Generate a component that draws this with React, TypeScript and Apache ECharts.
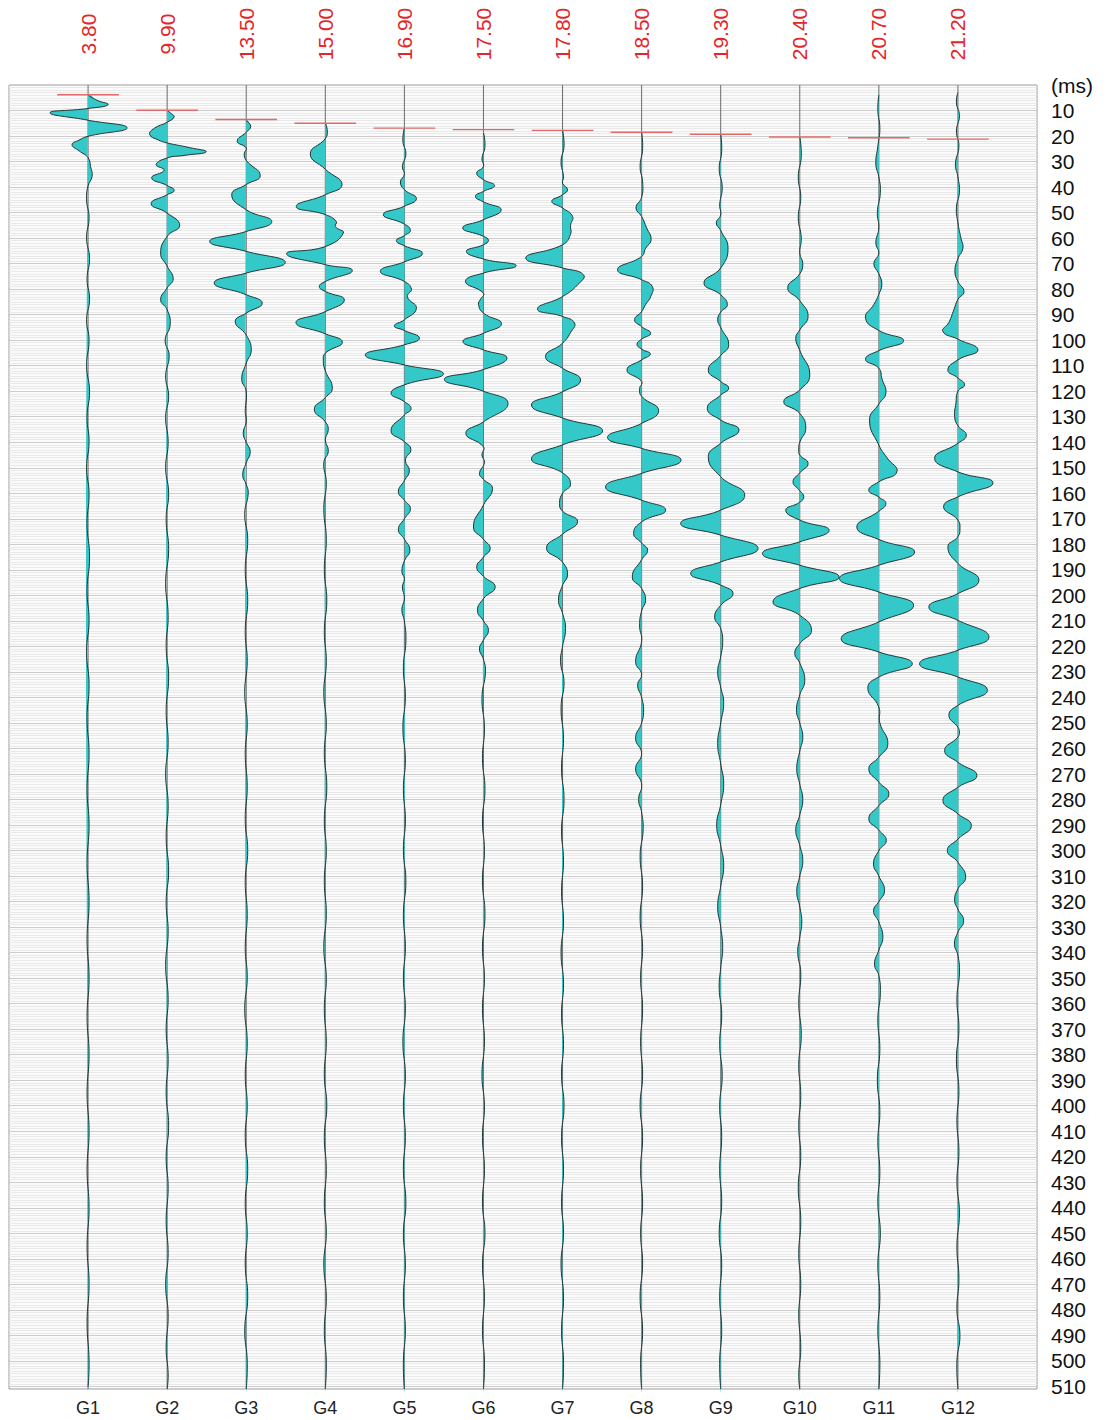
import React, { useEffect, useRef } from "react";
import * as echarts from "echarts";

// ---------- data ----------
const traceNames = ["G1", "G2", "G3", "G4", "G5", "G6", "G7", "G8", "G9", "G10", "G11", "G12"];
const firstBreaks = [3.8, 9.9, 13.5, 15.0, 16.9, 17.5, 17.8, 18.5, 19.3, 20.4, 20.7, 21.2];
const TIME_MAX = 511;

// each trace: [time ms, amplitude] (amplitude positive = right)
const g1 = [
  [4, 0], [6, 9], [7.7, 20], [9.2, 0], [10.9, -38], [13.8, 0], [16.8, 39], [20.1, 0], [21.6, -9], [23.4, -16], [25.8, -9], [28.5, 0],
  [32, 2.5], [35.8, 4], [39.5, 0], [45, -1.5], [52, 1], [60, -1.5], [68, 1.5], [76, -1], [84, 1.5], [92, -1.5], [100, 1], [110, -1.5],
  [120, 1.5], [130, -1], [140, 1], [150, -1.5], [160, 1], [172, -1], [185, 1.5], [198, -1], [210, 1], [222, -1.5], [235, 1], [248, -1],
  [262, 1], [276, -1], [290, 1], [305, -1], [320, 1], [335, -1], [350, 1], [365, -1], [380, 1], [395, -1], [410, 1], [425, -1], [440, 1],
  [455, -1], [470, 1], [485, -1], [500, 1], [510, 0],
];
const g2 = [
  [10, 0], [11.2, 4], [12.5, 7], [14.6, 0], [17, -13], [19.4, -17.5], [21.5, -9], [22.7, 0], [24.5, 22], [26.2, 39], [27.6, 17], [28.6, 0],
  [31.2, -11], [33.4, -3], [36.4, -15.5], [39.4, 0], [41.3, 7], [43, 0], [46.5, -16], [50.2, 0], [55, 12.5], [59.3, 0], [65.9, -6.5],
  [71, 0], [76, 6], [79.5, 0], [84.2, -6.5], [88, 0], [94, 3], [100, -2], [106, 2], [114, -1.5], [122, 1.5], [130, -1.5], [140, 1],
  [150, -1.5], [160, 1.5], [170, -1], [182, 1.5], [195, -1.5], [208, 1], [220, -1], [232, 1.5], [245, -1], [258, 1], [270, -1.5],
  [282, 1], [295, -1], [308, 1.5], [320, -1], [332, 1], [345, -1.5], [358, 1], [370, -1], [382, 1], [395, -1], [408, 1.5], [420, -1],
  [432, 1], [445, -1], [458, 1], [470, -1.5], [482, 1], [495, -1], [505, 1], [511, 0],
];
const g3 = [
  [14, 0], [16.2, 4.5], [18.5, 0], [22, -9], [24.7, 0], [27, -2], [29.5, 0], [35.5, 14], [39, 0], [43, -14.5], [48.9, 0], [53.5, 25.5],
  [57.4, 0], [61.3, -36.5], [65.2, 0], [69.5, 39], [73.7, 0], [77.6, -32], [82.2, 0], [85.5, 16], [89.4, 0], [92.7, -11], [98, 0],
  [103.8, 5], [109, 0], [115.3, -4.5], [120, 0], [128, -1], [132, 0], [136.4, -3], [140, 0], [143.7, 4], [148, 0], [152.9, -3.5],
  [156.5, 0], [160, 2], [168, -1.5], [178, 1.5], [190, -1], [202, 1.5], [214, -1], [226, 1], [238, -1.5], [250, 1], [262, -1], [275, 1],
  [288, -1], [300, 1.5], [312, -1], [325, 1], [338, -1], [350, 1], [362, -1.5], [375, 1], [388, -1], [400, 1], [412, -1], [425, 1.5],
  [438, -1], [450, 1], [462, -1], [475, 1.5], [488, -1.5], [500, 1], [511, 0],
];
const g4 = [
  [15, 0], [18, 2], [21, 0], [27, -15], [33, 0], [39, 16.7], [43, 0], [47.6, -29], [50.8, 0], [53.5, 11], [55.5, 10], [58, 18],
  [63.3, 0], [66.1, -38.7], [70.4, 0], [72.7, 27], [77, 0], [79, -6], [80.9, 0], [84.2, 19], [88.8, 0], [93.1, -29.3], [97.5, 0],
  [100.8, 17], [105.1, 0], [108, -2], [112, 0], [118.8, 7], [122.5, 0], [127.1, -11], [132, 0], [135, 3], [139, 0], [143.5, 3],
  [148, -1.5], [156, 1], [166, -1.5], [178, 1], [190, -1], [202, 1.5], [214, -1], [226, 1], [238, -1.5], [250, 1], [262, -1], [275, 1.5],
  [288, -1], [300, 1], [312, -1], [325, 1], [338, -1.5], [350, 1], [362, -1], [375, 1], [388, -1], [400, 1.5], [412, -1], [425, 1],
  [438, -1], [450, 1], [462, -1.5], [475, 1], [488, -1], [500, 1], [511, 0],
];
const g5 = [
  [17, 0], [22, -1.5], [27, 1.5], [32, -2], [35, 0], [38, -4], [41, 0], [44.5, 12], [47.5, 0], [50.8, -21], [54.5, 0], [57, 6], [59, 0],
  [61, -8], [63, 0], [66, 18], [69.3, 0], [73, -24], [77, 0], [80, 7], [83, 3], [87.5, 12], [92, 0], [94.4, -10], [96.2, 0], [99.2, 15],
  [101.8, 0], [105.8, -39], [109.7, 0], [113.2, 39], [117.5, 0], [120.8, -13.3], [124.1, 0], [126.8, 6.7], [129.3, 0], [135.5, -13.3],
  [139.8, 0], [142.8, 6.5], [147, 1], [151.2, 5], [155, 0], [159.4, -6], [162.7, 0], [166, 6], [170, 0], [174.2, -6], [178, 0],
  [182.3, 5.5], [186.5, 0], [190.7, -2.5], [193.5, 0], [196.7, -2], [201, 0], [205.8, -2.5], [210, 0], [218, 1.5], [228, -1], [240, 1],
  [252, -1.5], [264, 1], [276, -1], [288, 1], [300, -1], [312, 1.5], [325, -1], [338, 1], [350, -1], [362, 1], [375, -1.5], [388, 1],
  [400, -1], [412, 1], [425, -1], [438, 1.5], [450, -1], [462, 1], [475, -1], [488, 1], [500, -1], [511, 0],
];
const g6 = [
  [18.8, 0], [24, 1.5], [29, -1.5], [31.9, 0], [34.5, -6.7], [37.1, 0], [39.4, 11], [41.7, 0], [43.6, -8], [45.8, 0], [48.9, 17.7],
  [52.8, 0], [56, -20.7], [59.3, 0], [60.9, 5], [62.6, 0], [65.2, -17], [68.2, 0], [70.8, 32.7], [73.7, 0], [77, -18], [81.6, 0],
  [84, -3], [86, -5], [89.4, 0], [93.5, 18], [97.3, 0], [100.5, -20.5], [103.8, 0], [107, 23.5], [111.5, 0], [115.4, -39], [120, 0],
  [124.8, 24.5], [132, 0], [136.5, -17.6], [141.8, 0], [145, -1.5], [148, 1], [152.2, -4], [154.5, 0], [158.1, 9], [164.6, 0],
  [173.2, -10], [178, 0], [181.6, 6.7], [185, 0], [188.9, -6.7], [192.5, 0], [196.7, 11.7], [201.3, 0], [206, -6], [210, 0], [213.7, 5],
  [217.5, 0], [221, -4], [225, 0], [230, 2], [240, -1.5], [252, 1], [264, -1], [276, 1.5], [288, -1], [300, 1], [312, -1], [325, 1.5],
  [338, -1], [350, 1], [362, -1], [375, 1], [388, -1.5], [400, 1], [412, -1], [425, 1], [438, -1], [450, 1.5], [462, -1], [475, 1],
  [488, -1], [500, 1], [511, 0],
];
const g7 = [
  [17.8, 0], [24, 1.5], [30, -1.5], [36, 1], [38.5, 0], [41, 5], [43, 0], [45.6, -10.7], [48.2, 0], [51.5, 10], [55, 8], [58.5, 8],
  [62.6, 0], [67.8, -36.7], [71.7, 0], [74.4, 21], [78.3, 15], [82.9, 0], [87.8, -25], [90.7, 0], [93.3, 12], [97, 8], [101.2, 0],
  [106.4, -17], [111, 0], [115.6, 18], [120.2, 0], [125.4, -31], [130.5, 0], [135.5, 40], [141, 0], [146.5, -31], [152, 0], [156.5, 8],
  [160, 0], [164, -3], [167, 0], [171, 15], [176, 0], [181.5, -16], [187, 0], [192, 5], [196, 0], [202, -4], [207, 0], [213, 3],
  [220, 0], [226, -2], [234, 1.5], [244, -1.5], [256, 1], [268, -1], [280, 1.5], [292, -1], [304, 1], [316, -1], [328, 1], [340, -1.5],
  [352, 1], [364, -1], [376, 1], [388, -1], [400, 1.5], [412, -1], [425, 1], [438, -1], [450, 1], [462, -1.5], [475, 1], [488, -1],
  [500, 1], [511, 0],
];
const g8 = [
  [18.5, 0], [25, 1], [32, -1.5], [38, 1], [44, 0], [48.2, -5.6], [51.5, 0], [56, 5], [60.6, 9.5], [64, 4], [67.2, 0], [72.4, -24],
  [76.3, 0], [79, 10.7], [83, 9], [86, 4], [88.8, 0], [92, -7], [94.7, 0], [97.3, 9], [99.6, 0], [101.6, -4.6], [103.5, 0], [105.4, 8.7],
  [107.7, 0], [111.7, -14.6], [116.2, 0], [119, -2], [122, 0], [127.6, 17], [132.6, 0], [138.1, -34], [142.4, 0], [147, 39.4],
  [152.2, 0], [157.5, -36], [162.7, 0], [166.6, 24], [171.2, 0], [175.7, -8], [179.5, 0], [182.3, 6], [186, 0], [192.8, -9.3],
  [197.3, 0], [201.9, 4], [206, 0], [212, -2], [218, 0], [226, -6], [231, 0], [235, -4], [240, 0], [245, 2], [250, 0], [256, -6],
  [262, 0], [268, -6], [274, 0], [280, -3], [285, 0], [292, 1.5], [302, -1.5], [314, 1], [326, -1.5], [338, 1], [350, -1], [362, 1],
  [375, -1], [388, 1], [400, -1.5], [412, 1], [425, -1], [438, 1], [450, -1], [462, 1], [475, -1.5], [488, 1], [500, -1], [511, 0],
];
const g9 = [
  [19.3, 0], [26, 1], [33, -1.5], [40, 1.5], [47, -1], [51, 0], [54, -4.4], [57, 0], [63.9, 7.3], [71.7, 0], [77.6, -16.7], [82.2, 0],
  [86.1, 6.6], [89, 0], [92, -3], [95, 0], [101.8, 8], [106, 0], [111.7, -12.4], [116.2, 0], [118.8, 8], [121.5, 0], [126.7, -13.4],
  [131.3, 0], [135.2, 18.3], [140.4, 0], [145.7, -12.4], [153.5, 0], [160.7, 24], [166.6, 0], [171.8, -40], [176.4, 0], [181.6, 37.3],
  [186.9, 0], [191.4, -30], [196, 0], [199.3, 12.3], [203.9, 0], [208.5, -6], [213, 0], [218, 2], [224, 0], [230, -3], [236, 0],
  [242, 3], [250, 0], [258, -3], [266, 0], [274, 3], [282, 0], [290, -4], [298, 0], [306, 3], [314, 0], [322, -3], [330, 0], [338, 2],
  [346, 0], [354, -1.5], [364, 1], [376, -1], [388, 1.5], [400, -1], [412, 1], [425, -1], [438, 1], [450, -1.5], [462, 1], [475, -1],
  [488, 1], [500, -1], [511, 0],
];
const g10 = [
  [20.4, 0], [28, 1.5], [36, -1.5], [44, 1], [52, -1.5], [60, 1.5], [66, 0], [70, 3], [74, 0], [79.5, -12], [84.5, 0], [90.7, 8.3],
  [96, 0], [99.2, -4], [104, 0], [113.6, 10], [119.5, 0], [124.1, -16], [128.7, 0], [134.5, 6], [140, 0], [143, -1], [145, 0],
  [148.3, 8.3], [152, 0], [155.5, -6.7], [159, 0], [161.4, 4], [163.5, 0], [166.6, -14], [170.5, 0], [174.5, 29.3], [179, 0],
  [183.6, -37.3], [188.2, 0], [192.8, 39.3], [197.3, 0], [202.6, -26.7], [207.8, 0], [213.7, 11.7], [218.9, 0], [222.8, -5], [226.5, 0],
  [233.3, 5], [239, 0], [245.1, -3.3], [250, 0], [255.6, 3], [261, 0], [268, -3], [274, 0], [280, 3], [286, 0], [292, -4], [298, 0],
  [304, 3], [310, 0], [316, -3], [322, 0], [328, 2], [334, 0], [340, -2], [348, 1], [360, -1], [372, 1.5], [384, -1], [396, 1],
  [408, -1], [420, 1], [432, -1.5], [445, 1], [458, -1], [470, 1], [482, -1], [495, 1], [505, -1], [511, 0],
];
const g11 = [
  [4, 0], [10, -1], [17, 1], [24, -1], [31, -3], [36, 0], [42, 1.5], [50, -1.5], [56, 0], [62, -3], [66, 0], [70, -5], [74, 0], [78, 3],
  [82, 0], [86, -5], [91.4, -13.3], [96.2, 0], [100.2, 24.7], [104.1, 0], [107.5, -13.3], [111, 0], [115, 3], [120.8, 7], [125, 0],
  [131.3, -9.3], [141.1, 0], [146, 8], [151.6, 18], [155.5, 0], [158.8, -10], [161.5, 0], [164, 7], [167, 0], [173.2, -22], [178.1, 0],
  [183, 35.7], [188.2, 0], [193.4, -39.3], [198.7, 0], [203.9, 34.7], [210.4, 0], [217, -37.6], [222.2, 0], [226.8, 33.4], [232, 0],
  [236.3, -11], [243.8, 0], [250, 1], [258.2, 9], [263.4, 0], [268, -10], [273.2, 0], [277.8, 10], [282.4, 0], [287.6, -10], [292, 0],
  [296.1, 7.4], [300, 0], [305.3, -5.3], [310, 0], [315.7, 5.7], [320, 0], [323.6, -5.3], [328, 0], [334, 4], [339, 0], [344.5, -4.3],
  [349, 0], [356, 1.5], [366, -1], [378, 1], [390, -1.5], [402, 1], [414, -1], [426, 1], [438, -1], [450, 1.5], [462, -1], [475, 1],
  [488, -1], [500, 1], [511, 0],
];
const g12 = [
  [3, 0], [7, -1.5], [12, 1.5], [18, -1.5], [24, 1], [31, -2.5], [36, 0], [42, 1.5], [48, -1.5], [54, 0], [60, 3], [64, 5], [68, 0],
  [73, -3], [77, 0], [81, 6], [84, 0], [88, -4], [93, -9], [96.6, -15], [99.6, 0], [103.8, 20], [107.7, 0], [111.7, -10], [114.8, 0],
  [117.5, 6.7], [120, 0], [124.7, -2], [130, -3.3], [133.5, 0], [137.2, 8.4], [140.4, 0], [146.3, -23.3], [151.6, 0], [155.9, 35],
  [161.4, 0], [165.3, -14.3], [170.5, 0], [174, 2], [177, 0], [181, -10], [187.5, 0], [194, 21], [199.3, 0], [204.6, -29], [209.8, 0],
  [216.3, 31], [221.5, 0], [226.8, -38.3], [232, 0], [237.2, 29.4], [243.1, 0], [247, -9], [251.7, 0], [253.5, 1.5], [255.5, 0],
  [260.8, -13.3], [265.4, 0], [270.6, 19], [275.2, 0], [280.4, -15], [285.6, 0], [290.2, 13.4], [295.5, 0], [300, -10.6], [304.6, 0],
  [310.5, 7.7], [315, 0], [319.4, -3.3], [323, 0], [327.5, 5.7], [332, 0], [336.7, -3.5], [341, 0], [348, 1.5], [358, -1], [370, 1],
  [382, -1.5], [394, 1], [406, -1], [418, 1], [430, -1], [442, 1.5], [455, -1], [468, 1], [480, -1], [490, 2], [500, -1], [511, 0],
];
const traces = [g1, g2, g3, g4, g5, g6, g7, g8, g9, g10, g11, g12];

// ---------- styling ----------
const FONT = '"Liberation Sans", Arial, Helvetica, sans-serif';
const GAIN = 1 / 79; // amplitude units -> trace spacing
const SMOOTH = 0.5;
const DASH_HALF = 0.39;

export default function App() {
  const ref = useRef<HTMLDivElement>(null);

  useEffect(() => {
    if (!ref.current) return;
    const chart = echarts.init(ref.current, undefined, { renderer: "svg" });
    const idxData = traceNames.map((_, i) => [i + 1, 0]);

    const option: any = {
      animation: false,
      backgroundColor: "#ffffff",
      grid: {
        left: 9,
        right: 71,
        top: 85,
        bottom: 31,
        show: true,
        backgroundColor: "#fbfbfb",
        borderColor: "#9a9a9a",
        borderWidth: 1,
      },
      xAxis: {
        type: "value",
        min: 0,
        max: 13,
        interval: 1,
        axisLine: { show: false },
        axisTick: { show: false },
        splitLine: { show: false },
        axisLabel: {
          margin: 10,
          fontSize: 18,
          color: "#222",
          fontFamily: FONT,
          formatter: (v: number) => (v >= 1 && v <= 12 ? traceNames[Math.round(v) - 1] : ""),
        },
      },
      yAxis: {
        type: "value",
        inverse: true,
        position: "right",
        min: 0,
        max: TIME_MAX,
        interval: 10,
        axisLine: { show: false },
        axisTick: { show: false },
        axisLabel: {
          margin: 14,
          fontSize: 21,
          color: "#111",
          fontFamily: FONT,
          formatter: (v: number) => (v === 0 ? "(ms)" : v % 10 === 0 ? String(v) : ""),
        },
        splitLine: { show: true, lineStyle: { color: "#cdcdcd", width: 1 } },
        minorTick: { show: false, splitNumber: 10 },
        minorSplitLine: { show: true, lineStyle: { color: "#e9e9e9", width: 1 } },
      },
      series: [
        {
          type: "custom",
          name: "baseline",
          coordinateSystem: "cartesian2d",
          silent: true,
          z: 2,
          data: idxData,
          renderItem: (params: any, api: any) => {
            const k = api.value(0);
            const p0 = api.coord([k, 0]);
            const p1 = api.coord([k, TIME_MAX]);
            return {
              type: "line",
              shape: { x1: p0[0], y1: p0[1], x2: p1[0], y2: p1[1] },
              style: { stroke: "#6b6b6b", lineWidth: 1 },
            };
          },
        },
        {
          type: "custom",
          name: "traces",
          coordinateSystem: "cartesian2d",
          silent: true,
          z: 3,
          data: idxData,
          renderItem: (params: any, api: any) => {
            const i = params.dataIndex;
            const k = i + 1;
            const pts = traces[i].map(([t, a]) => api.coord([k + a * GAIN, t]));
            return {
              type: "group",
              children: [
                {
                  type: "polygon",
                  shape: { points: pts, smooth: SMOOTH },
                  style: { fill: "#34c8c8", stroke: null, lineWidth: 0 },
                },
                {
                  type: "polyline",
                  shape: { points: pts, smooth: SMOOTH },
                  style: { stroke: "#1f3838", lineWidth: 1, fill: null },
                },
              ],
            };
          },
        },
        {
          type: "custom",
          name: "firstBreaks",
          coordinateSystem: "cartesian2d",
          silent: true,
          z: 10,
          clip: false,
          data: idxData,
          renderItem: (params: any, api: any) => {
            const i = params.dataIndex;
            const k = i + 1;
            const fb = firstBreaks[i];
            const a = api.coord([k - DASH_HALF, fb]);
            const b = api.coord([k + DASH_HALF, fb]);
            const top = api.coord([k, 0]);
            return {
              type: "group",
              children: [
                {
                  type: "rect",
                  shape: { x: a[0], y: a[1] - 0.7, width: b[0] - a[0], height: 1.4 },
                  style: { fill: "#e46a6a", stroke: null },
                },
                {
                  type: "text",
                  x: top[0],
                  y: top[1] - 51,
                  rotation: Math.PI / 2,
                  style: {
                    text: fb.toFixed(2),
                    x: 0,
                    y: 0,
                    fill: "#e3262b",
                    fontSize: 21,
                    fontFamily: FONT,
                    align: "center",
                    verticalAlign: "middle",
                  },
                },
              ],
            };
          },
        },
      ],
    };

    chart.setOption(option);
    return () => chart.dispose();
  }, []);

  return (
    <div
      ref={ref}
      style={{ position: "absolute", left: 0, top: 0, width: 1108, height: 1420 }}
    />
  );
}
